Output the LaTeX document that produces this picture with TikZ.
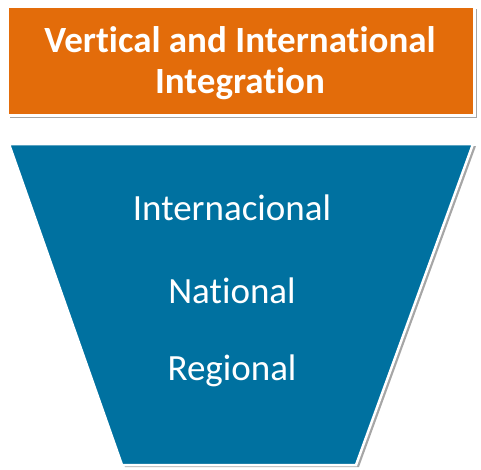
\documentclass[tikz,border=0pt]{standalone}
\usepackage{fontspec}
\setmainfont[Ligatures={NoCommon}]{Carlito}
\usetikzlibrary{shadows,calc}
\definecolor{orangebox}{HTML}{E36C0A}
\definecolor{funnelblue}{HTML}{0071A0}
\tikzset{
  titlebox/.style={draw=white, line width=3pt, fill=orangebox,
    drop shadow={shadow xshift=3pt, shadow yshift=-3pt, fill=black, opacity=0.35}},
  funnel/.style={draw=white, line width=2.5pt, fill=funnelblue,
    drop shadow={shadow xshift=3pt, shadow yshift=-2pt, fill=black, opacity=0.35}},
  titletext/.style={text=white, font=\fontsize{37}{41}\selectfont\bfseries, anchor=base},
  leveltext/.style={text=white, font=\fontsize{37}{44}\selectfont, anchor=base}
}
\begin{document}
\begin{tikzpicture}[x=1pt,y=1pt]
\useasboundingbox (0,0) rectangle (481,-469);
\path[titlebox] (7,-6) rectangle (474,-115);
\node[titletext] (title1) at (240,-52) {Vertical and International};
\node[titletext] (title2) at (240,-93) {Integration};
\coordinate (tl) at (9,-144);
\coordinate (tr) at (473,-144);
\coordinate (br) at (356,-465);
\coordinate (bl) at (122,-465);
\path[funnel] (tl) -- (tr) -- (br) -- (bl) -- cycle;
\node[leveltext] (inter) at (232,-220) {Internacional};
\node[leveltext] (nat) at (232,-303) {National};
\node[leveltext] (reg) at (232,-380) {Regional};
\end{tikzpicture}
\end{document}
